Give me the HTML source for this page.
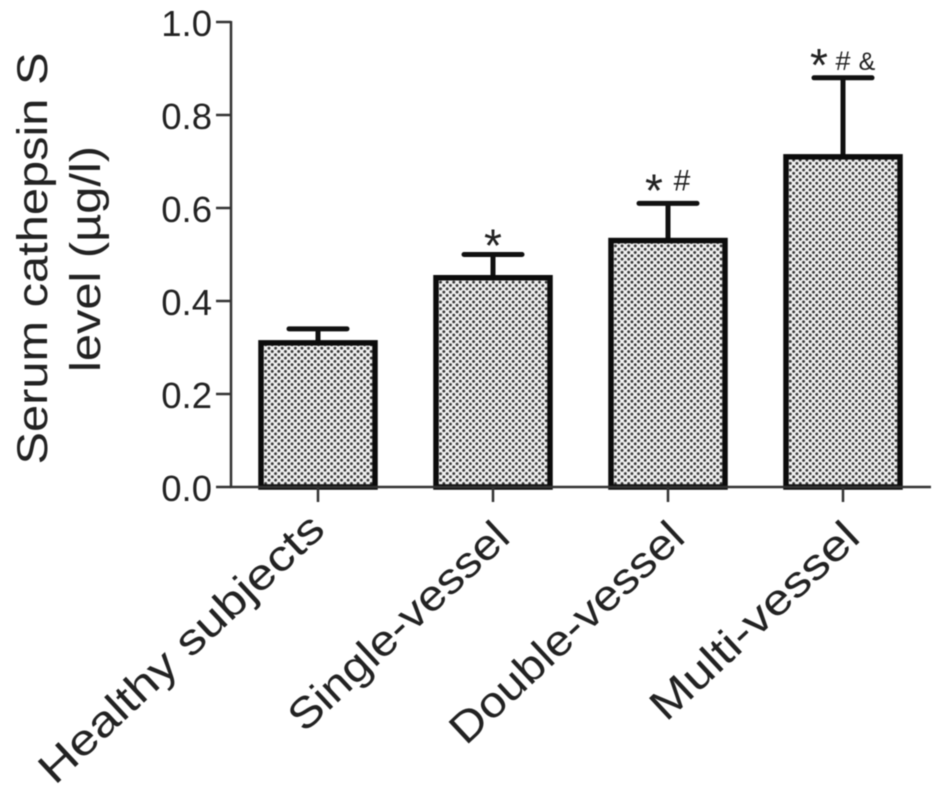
<!DOCTYPE html>
<html lang="en">
<head>
<meta charset="utf-8">
<title>Serum cathepsin S level</title>
<style>
html,body{margin:0;padding:0;background:#fff;width:945px;height:796px;overflow:hidden}
svg{display:block;filter:blur(.6px)}
text{font-family:"Liberation Sans",sans-serif;fill:#222}
</style>
</head>
<body>
<svg id="chart" width="945" height="796" viewBox="0 0 945 796" xmlns="http://www.w3.org/2000/svg">
<defs>
<pattern id="dots" patternUnits="userSpaceOnUse" width="6.6" height="6.6">
<rect width="6.6" height="6.6" fill="#f2f2f2"/>
<circle cx="1.65" cy="1.65" r="1.45" fill="#333"/>
<circle cx="4.95" cy="4.95" r="1.45" fill="#333"/>
</pattern>
</defs>
</svg>
<script>
const categories = ["Healthy subjects", "Single-vessel", "Double-vessel", "Multi-vessel"];
const means = [0.31, 0.45, 0.53, 0.71];
const errors = [0.03, 0.05, 0.08, 0.17];
const yTicks = [0.0, 0.2, 0.4, 0.6, 0.8, 1.0];
const annotations = [[], ["*"], ["*", "#"], ["*", "#", "&"]];

const NS = "http://www.w3.org/2000/svg";
const svg = document.getElementById("chart");
const xAxisX = 231, plotRight = 931, band = 175;
const yScale = v => 487 - v * 465;
const xScale = i => 318 + i * band;

function make(tag, attrs, text) {
  const el = document.createElementNS(NS, tag);
  for (const k in attrs) el.setAttribute(k, attrs[k]);
  if (text !== undefined) el.textContent = text;
  svg.appendChild(el);
  return el;
}

categories.forEach((c, i) => {
  const x = xScale(i), top = yScale(means[i]), cap = yScale(means[i] + errors[i]);
  const stem = make("line", {x1: x, x2: x, y1: top, y2: cap, stroke: "#111", "stroke-width": 5});
  
  
  const capLine = make("line", {x1: x - 29, x2: x + 29, y1: cap, y2: cap, stroke: "#111", "stroke-width": 5, "stroke-linecap": "round"});
  
  
  const bar = make("rect", {x: x - 57, y: top, width: 114, height: yScale(0) - top, fill: "url(#dots)", stroke: "#0c0c0c", "stroke-width": 5.5});
  
  
  const tick = make("line", {x1: x, x2: x, y1: yScale(0), y2: yScale(0) + 15, stroke: "#333", "stroke-width": 2.5});
  
  
  const lx = x + 7 + (i === 0 ? 2 : 12), ly = 530 + (i === 0 ? 2 : 10);
  const stretch = (i === 0 || i === 3) ? 1.18 : 1.11;
  const label = make("text", {x: 0, y: 0, "font-size": 43, "text-anchor": "end", transform: `translate(${lx} ${ly}) rotate(-43) scale(${stretch} 1)`}, c);
  
  
  const n = annotations[i].length;
  annotations[i].forEach((s, j) => {
    const isStar = s === "*";
    const ax = x + (j - (n - 1) / 2) * (n === 3 ? 24 : 28);
    const ay = isStar ? cap + (n === 1 ? 7 : 3) : cap - (n === 3 ? 8 : 13);
    const size = isStar ? 46 : (s === "&" ? 25 : (n === 3 ? 27 : 30));
    const mark = make("text", {x: ax, y: ay, "font-size": size, "text-anchor": "middle"}, s);
    
    
  });
});

const xAxis = make("line", {x1: xAxisX - 1, x2: plotRight, y1: yScale(0), y2: yScale(0), stroke: "#333", "stroke-width": 2.5});


const yAxis = make("line", {x1: xAxisX, x2: xAxisX, y1: yScale(1) - 1, y2: yScale(0) + 1, stroke: "#333", "stroke-width": 2.5});



yTicks.forEach(t => {
  const y = yScale(t);
  const tick = make("line", {x1: xAxisX - 15, x2: xAxisX, y1: y, y2: y, stroke: "#333", "stroke-width": 2.5});
  
  
  const label = make("text", {x: 212, y: y + 14, "font-size": 36.5, "text-anchor": "end"}, t.toFixed(1));
  
  
});

const title1 = make("text", {x: 0, y: 0, "font-size": 43, "text-anchor": "middle", transform: "translate(47 258.5) rotate(-90) scale(1.134 1)"}, "Serum cathepsin S");


const title2 = make("text", {x: 0, y: 0, "font-size": 43, "text-anchor": "middle", transform: "translate(100 259) rotate(-90) scale(1.134 1)"}, "level (µg/l)");


</script>
</body>
</html>
